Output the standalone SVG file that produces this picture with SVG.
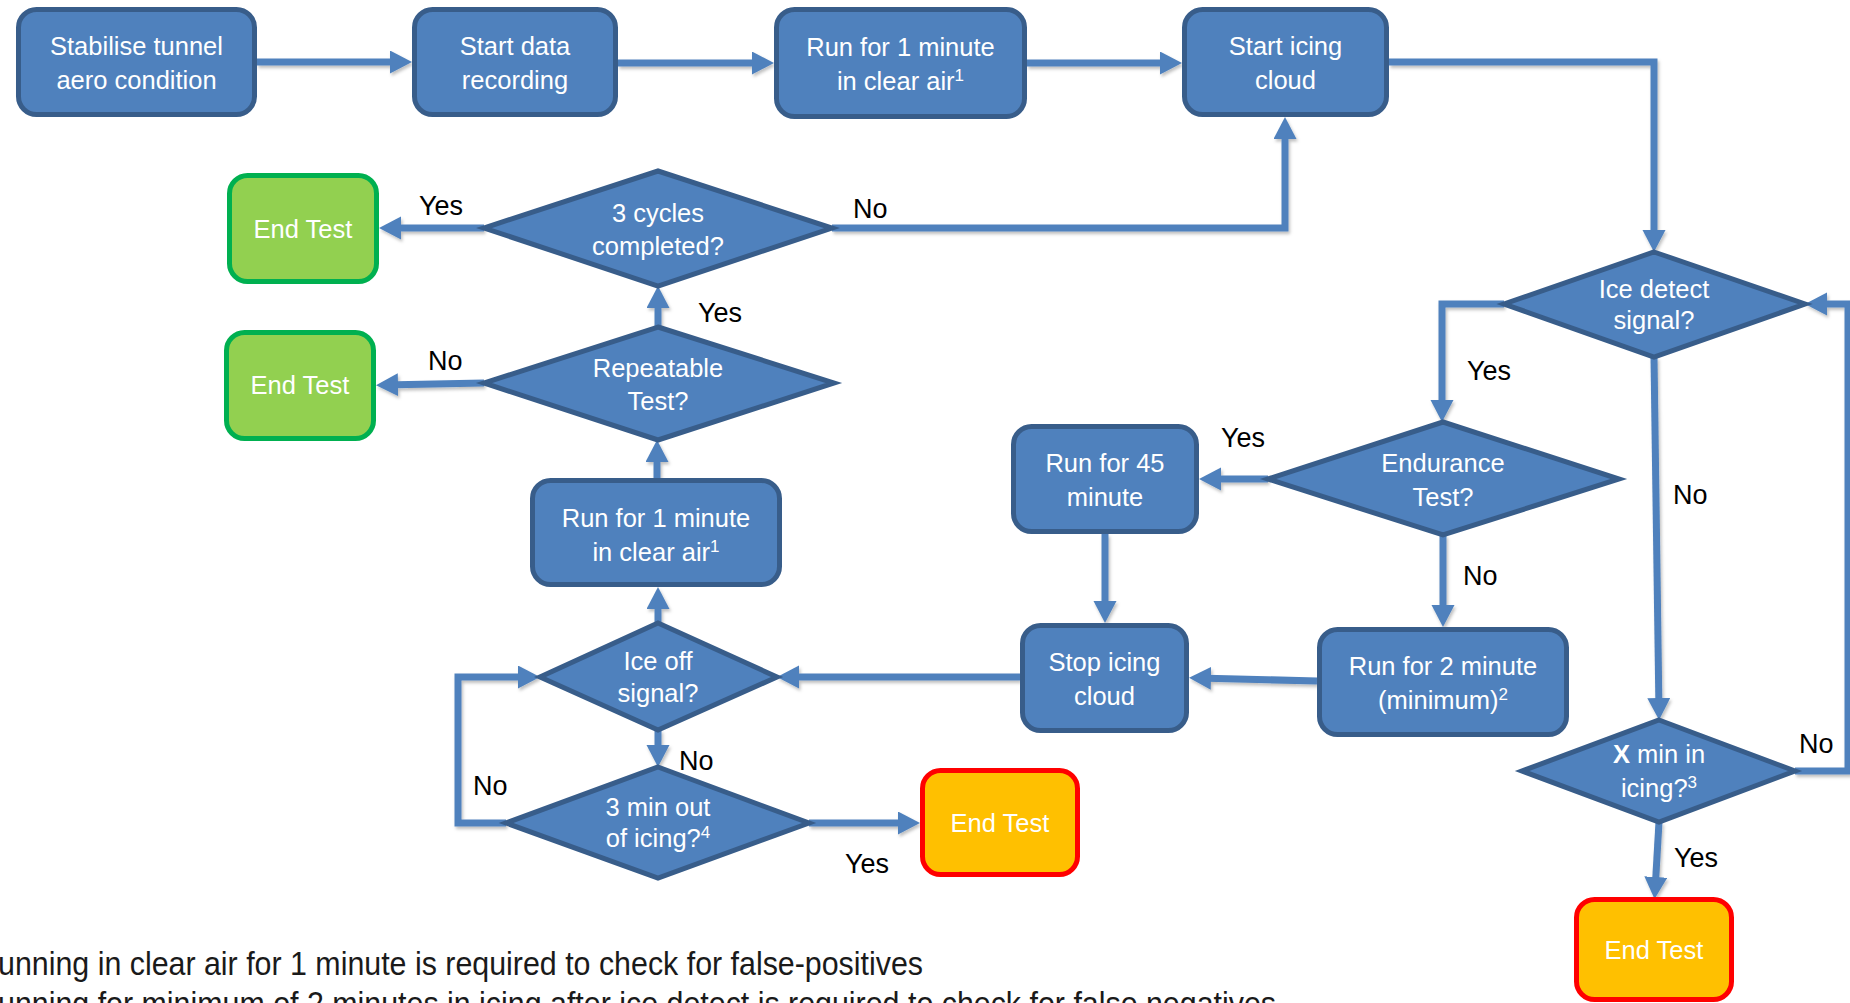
<svg xmlns="http://www.w3.org/2000/svg" width="1850" height="1003" viewBox="0 0 1850 1003">
<defs>
<style>
.box{fill:#4F81BD;stroke:#385D8A;stroke-width:5}
.dia{fill:#4F81BD;stroke:#385D8A;stroke-width:5;stroke-linejoin:miter}
.green{fill:#92D050;stroke:#00B050;stroke-width:5}
.orange{fill:#FFC000;stroke:#FF0000;stroke-width:5}
.t{font-family:"Liberation Sans",Arial,sans-serif;font-size:25.5px;fill:#FFFFFF;text-anchor:middle}
.lbl{font-family:"Liberation Sans",Arial,sans-serif;font-size:27px;fill:#000000}
.note{font-family:"Liberation Sans Narrow","Liberation Sans",Arial,sans-serif;font-size:34px;fill:#1a1a1a}
.c{fill:none;stroke:#4F81BD;stroke-width:7;stroke-linejoin:miter;marker-end:url(#ah)}
.sup{font-size:17px}
</style>
<marker id="ah" markerUnits="userSpaceOnUse" markerWidth="24" markerHeight="24" viewBox="0 0 24 24" refX="14" refY="11.5" orient="auto">
<path d="M0,0 L22,11.5 L0,23 Z" fill="#4F81BD"/>
</marker>
<filter id="sh" x="-5%" y="-5%" width="110%" height="110%">
<feDropShadow dx="1.5" dy="2.5" stdDeviation="1.5" flood-color="#000" flood-opacity="0.25"/>
</filter>
</defs>

<g id="connectors" filter="url(#sh)">
<path class="c" d="M257,62 H404"/>
<path class="c" d="M618,63 H766"/>
<path class="c" d="M1027,63 H1174"/>
<path class="c" d="M1389,62 H1654 V244"/>
<path class="c" d="M1504,304 H1442 V414"/>
<path class="c" d="M1268,479 H1207"/>
<path class="c" d="M1443,535 V619"/>
<path class="c" d="M1105,534 V615"/>
<path class="c" d="M1317,681 L1197,678"/>
<path class="c" d="M1020,677 H785"/>
<path class="c" d="M658,623 V595"/>
<path class="c" d="M657,478 V448"/>
<path class="c" d="M658,327 V294"/>
<path class="c" d="M484,228 H387"/>
<path class="c" d="M484,383 L384,385"/>
<path class="c" d="M832,228 H1285 V125"/>
<path class="c" d="M658,730 V759"/>
<path class="c" d="M506,823 H458 V677 H532"/>
<path class="c" d="M809,823 H912"/>
<path class="c" d="M1654,357 L1659,712"/>
<path class="c" d="M1795,771 H1848 V304 H1813"/>
<path class="c" d="M1659,822 L1655,891"/>
</g>

<g id="labels">
<text class="lbl" x="419" y="215">Yes</text>
<text class="lbl" x="853" y="218">No</text>
<text class="lbl" x="698" y="322">Yes</text>
<text class="lbl" x="428" y="370">No</text>
<text class="lbl" x="1467" y="380">Yes</text>
<text class="lbl" x="1673" y="504">No</text>
<text class="lbl" x="1221" y="447">Yes</text>
<text class="lbl" x="1463" y="585">No</text>
<text class="lbl" x="679" y="770">No</text>
<text class="lbl" x="473" y="795">No</text>
<text class="lbl" x="845" y="873">Yes</text>
<text class="lbl" x="1799" y="753">No</text>
<text class="lbl" x="1674" y="867">Yes</text>
</g>

<g id="n-stabilise">
<rect class="box" x="18.5" y="9.5" width="236" height="105" rx="18"/>
<text class="t" x="136.5" y="55">Stabilise tunnel</text>
<text class="t" x="136.5" y="89">aero condition</text>
</g>
<g id="n-startdata">
<rect class="box" x="414.5" y="9.5" width="201" height="105" rx="18"/>
<text class="t" x="515" y="55">Start data</text>
<text class="t" x="515" y="89">recording</text>
</g>
<g id="n-run1top">
<rect class="box" x="776.5" y="9.5" width="248" height="107" rx="18"/>
<text class="t" x="900.5" y="56">Run for 1 minute</text>
<text class="t" x="900.5" y="90">in clear air<tspan class="sup" baseline-shift="super">1</tspan></text>
</g>
<g id="n-starticing">
<rect class="box" x="1184.5" y="9.5" width="202" height="105" rx="18"/>
<text class="t" x="1285.5" y="55">Start icing</text>
<text class="t" x="1285.5" y="89">cloud</text>
</g>
<g id="n-end-green1">
<rect class="green" x="229.5" y="175.5" width="147" height="106" rx="18"/>
<text class="t" x="303" y="238">End Test</text>
</g>
<g id="n-3cycles">
<path class="dia" d="M658,171 L832,228 L658,286 L484,228 Z"/>
<text class="t" x="658" y="222">3 cycles</text>
<text class="t" x="658" y="255">completed?</text>
</g>
<g id="n-end-green2">
<rect class="green" x="226.5" y="332.5" width="147" height="106" rx="18"/>
<text class="t" x="300" y="394">End Test</text>
</g>
<g id="n-repeatable">
<path class="dia" d="M658,327 L834,383 L658,440 L484,383 Z"/>
<text class="t" x="658" y="377">Repeatable</text>
<text class="t" x="658" y="410">Test?</text>
</g>
<g id="n-run1low">
<rect class="box" x="532.5" y="480.5" width="247" height="104" rx="18"/>
<text class="t" x="656" y="527">Run for 1 minute</text>
<text class="t" x="656" y="561">in clear air<tspan class="sup" baseline-shift="super">1</tspan></text>
</g>
<g id="n-icedetect">
<path class="dia" d="M1654,252 L1805,304 L1654,357 L1504,304 Z"/>
<text class="t" x="1654" y="298">Ice detect</text>
<text class="t" x="1654" y="329">signal?</text>
</g>
<g id="n-endurance">
<path class="dia" d="M1443,422 L1619,479 L1443,535 L1268,479 Z"/>
<text class="t" x="1443" y="472">Endurance</text>
<text class="t" x="1443" y="506">Test?</text>
</g>
<g id="n-run45">
<rect class="box" x="1013.5" y="426.5" width="183" height="105" rx="18"/>
<text class="t" x="1105" y="472">Run for 45</text>
<text class="t" x="1105" y="506">minute</text>
</g>
<g id="n-stopicing">
<rect class="box" x="1022.5" y="625.5" width="164" height="105" rx="18"/>
<text class="t" x="1104.5" y="671">Stop icing</text>
<text class="t" x="1104.5" y="705">cloud</text>
</g>
<g id="n-run2">
<rect class="box" x="1319.5" y="629.5" width="247" height="105" rx="18"/>
<text class="t" x="1443" y="675">Run for 2 minute</text>
<text class="t" x="1443" y="709">(minimum)<tspan class="sup" baseline-shift="super">2</tspan></text>
</g>
<g id="n-iceoff">
<path class="dia" d="M658,623 L777,677 L658,730 L540,677 Z"/>
<text class="t" x="658" y="670">Ice off</text>
<text class="t" x="658" y="702">signal?</text>
</g>
<g id="n-3min">
<path class="dia" d="M658,767 L809,823 L658,878 L506,823 Z"/>
<text class="t" x="658" y="816">3 min out</text>
<text class="t" x="658" y="847">of icing?<tspan class="sup" baseline-shift="super">4</tspan></text>
</g>
<g id="n-end-orange1">
<rect class="orange" x="922.5" y="770.5" width="155" height="104" rx="18"/>
<text class="t" x="1000" y="832">End Test</text>
</g>
<g id="n-xmin">
<path class="dia" d="M1659,720 L1795,771 L1659,822 L1522,771 Z"/>
<text class="t" x="1659" y="763"><tspan font-weight="bold">X</tspan> min in</text>
<text class="t" x="1659" y="797">icing?<tspan class="sup" baseline-shift="super">3</tspan></text>
</g>
<g id="n-end-orange2">
<rect class="orange" x="1576.5" y="899.5" width="155" height="100" rx="18"/>
<text class="t" x="1654" y="959">End Test</text>
</g>

<g id="footnotes">
<text class="note" x="-2" y="975" textLength="925" lengthAdjust="spacingAndGlyphs">unning in clear air for 1 minute is required to check for false-positives</text>
<text class="note" x="-2" y="1015" textLength="1278" lengthAdjust="spacingAndGlyphs">unning for minimum of 2 minutes in icing after ice detect is required to check for false negatives</text>
</g>
</svg>
